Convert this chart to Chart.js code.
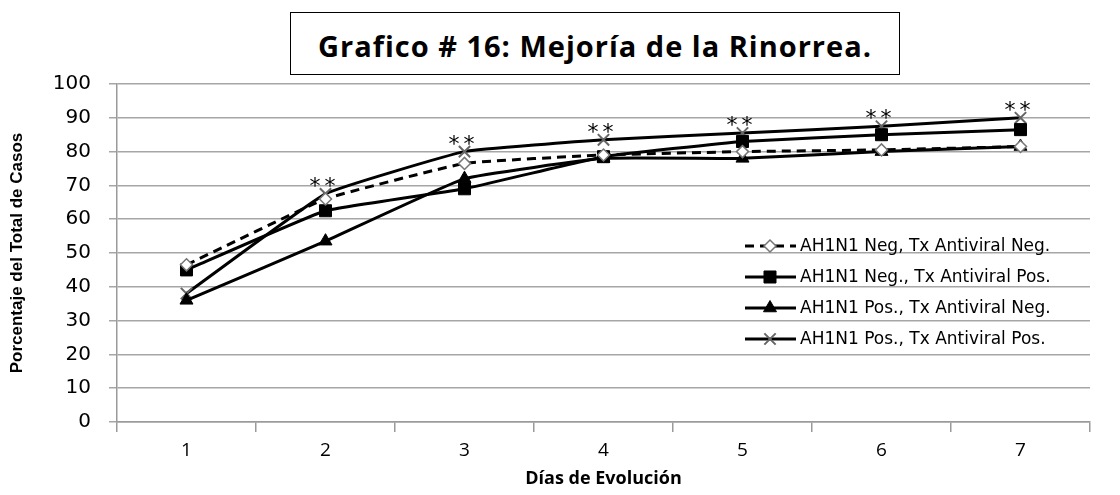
<!DOCTYPE html>
<html>
<head>
<meta charset="utf-8">
<script src="https://cdn.jsdelivr.net/npm/chart.js@4.4.1/dist/chart.umd.min.js"></script>
<style>
body{margin:0;background:#fff;}
#wrap{position:relative;width:1120px;height:495px;}
#titulo{position:absolute;left:290px;top:12px;width:608px;height:61px;border:1.5px solid #000;
font-family:"Open Sans",sans-serif;font-weight:bold;font-size:29px;letter-spacing:1px;line-height:66px;text-align:center;color:#000;background:#fff;z-index:2;}
</style>
</head>
<body>
<div id="wrap">
<canvas id="grafico" width="1120" height="495"></canvas>
<div id="titulo">Grafico # 16: Mejoría de la Rinorrea.</div>
</div>
<script>
// datos
const dias = ['1','2','3','4','5','6','7'];
const negTxNeg = [46.5, 66, 76.5, 79, 80, 80.5, 81.5];
const negTxPos = [45, 62.5, 69, 78.5, 83, 85, 86.5];
const posTxNeg = [36, 53.5, 72, 78, 78, 80, 81.5];
const posTxPos = [38, 67.5, 80, 83.5, 85.5, 87.5, 90];
const etiquetas = ['AH1N1 Neg, Tx Antiviral Neg.','AH1N1 Neg., Tx Antiviral Pos.','AH1N1 Pos., Tx Antiviral Neg.','AH1N1 Pos., Tx Antiviral Pos.'];
const marcaSig = '**';

document.addEventListener("DOMContentLoaded", function(){

const ctx = document.getElementById('grafico')

// leyenda dibujada a mano dentro del area
const leyenda = {
  id: 'leyenda',
  afterDatasetsDraw(chart){
    const c = chart.ctx
    const filas = [246, 277, 308, 339]
    chart.data.datasets.forEach((ds, i) => {
      const y = filas[i]
      c.save()
      c.strokeStyle = '#000'
      c.lineWidth = 3
      c.setLineDash(ds.borderDash || [])
      c.beginPath()
      c.moveTo(745, y)
      c.lineTo(796, y)
      c.stroke()
      c.setLineDash([])
      c.fillStyle = ds.pointBackgroundColor
      c.strokeStyle = ds.pointBorderColor
      c.lineWidth = ds.pointBorderWidth
      Chart.helpers.drawPoint(c, {pointStyle: ds.pointStyle, radius: ds.pointRadius, borderWidth: ds.pointBorderWidth, rotation: 0}, 770, y)
      c.fillStyle = '#000'
      c.font = '17px "DejaVu Sans"'
      c.textBaseline = 'middle'
      c.fillText(ds.label, 800, y + 1)
      c.restore()
    })
  }
}

// asteriscos sobre la serie Pos/Pos
const asteriscos = {
  id: 'asteriscos',
  afterDatasetsDraw(chart){
    const c = chart.ctx
    const meta = chart.getDatasetMeta(3)
    c.save()
    c.fillStyle = '#000'
    c.font = '22px "DejaVu Sans"'
    c.letterSpacing = '4px'
    c.textAlign = 'center'
    c.textBaseline = 'alphabetic'
    meta.data.forEach((p, i) => {
      if(i === 0) return
      c.fillText(marcaSig, p.x - 1, p.y - 1)
    })
    c.restore()
  }
}

new Chart(ctx, {
type: 'line',
data: {
labels: dias,
datasets: [
{label: etiquetas[0], data: negTxNeg, borderColor:'#000', borderWidth:3, borderDash:[9,6],
 pointStyle:'rectRot', pointRadius:6, pointBackgroundColor:'#fff', pointBorderColor:'#777', pointBorderWidth:1.5, tension:0.1},
{label: etiquetas[1], data: negTxPos, borderColor:'#000', borderWidth:3,
 pointStyle:'rect', pointRadius:8.5, pointBackgroundColor:'#000', pointBorderColor:'#000', pointBorderWidth:1, tension:0.1},
{label: etiquetas[2], data: posTxNeg, borderColor:'#000', borderWidth:3,
 pointStyle:'triangle', pointRadius:7.5, pointBackgroundColor:'#000', pointBorderColor:'#000', pointBorderWidth:1, tension:0.1},
{label: etiquetas[3], data: posTxPos, borderColor:'#000', borderWidth:3,
 pointStyle:'crossRot', pointRadius:8, pointBackgroundColor:'#666', pointBorderColor:'#666', pointBorderWidth:2, tension:0.1}
]
},
options: {
responsive: false,
animation: false,
layout: {padding: {left:5, right:30, top:84, bottom:0}},
plugins: {legend: {display:false}, tooltip: {enabled:false}},
scales: {
x: {
  offset: true,
  grid: {offset: true, drawOnChartArea: false, tickLength: 10, color: '#9a9a9a', lineWidth: 1.5},
  border: {color: '#9a9a9a', width: 1.5},
  ticks: {color: '#000', font: {family: '"Open Sans"', size: 19}, padding: 7},
  title: {display: true, text: 'Días de Evolución', color: '#000', font: {family: '"Open Sans"', size: 18, weight: 'bold'}, padding: {top: 0, bottom: 5}},
  afterFit: s => { s.height = 73 }
},
y: {
  min: 0,
  max: 100,
  grid: {tickLength: 8, color: '#a6a6a6', lineWidth: 1.5},
  border: {color: '#9a9a9a', width: 1.5},
  ticks: {stepSize: 10, color: '#000', font: {family: '"DejaVu Sans"', size: 20}, padding: 18},
  title: {display: true, text: 'Porcentaje del Total de Casos', color: '#000', font: {family: '"Liberation Sans"', size: 17, weight: 'bold'}, padding: {top: 2, bottom: 0}},
  afterFit: s => { s.width = 112 }
}
}
},
plugins: [leyenda, asteriscos]
})

})
</script>
</body>
</html>
